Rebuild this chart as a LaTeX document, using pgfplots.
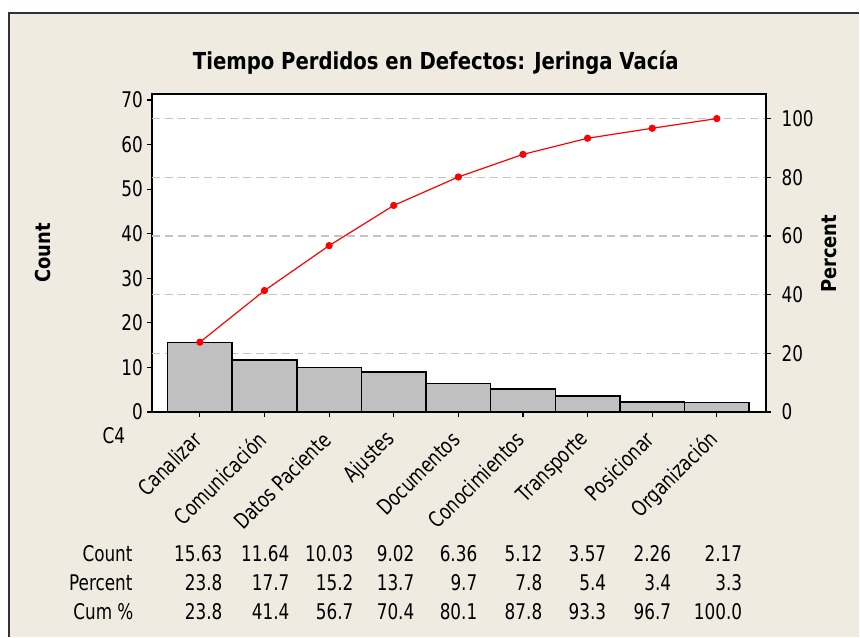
\documentclass[border=0pt]{standalone}
\usepackage{fontspec}
\setmainfont{DejaVu Sans}[FakeStretch=0.78]
\newfontfamily\bfam{DejaVu Sans}[FakeStretch=0.87]
\newfontfamily\tfam{DejaVu Sans}[FakeStretch=0.84]
\usepackage{pgfplots}
\pgfplotsset{compat=1.18}
\definecolor{bg}{HTML}{EFEBE1}
\definecolor{barfill}{HTML}{C0C0C0}
\definecolor{gridc}{HTML}{C4C4C4}
\newcommand\rf{\fontsize{10.8}{13}\selectfont}
\begin{document}
\begin{tikzpicture}[x=1pt,y=1pt]
\fill[white] (0,0) rectangle (430,318.5);
\fill[bg] (4.5,0) rectangle (430,312);
\draw[line width=0.6pt, color=black!80] (4.5,0) -- (4.5,312) -- (430,312);

\begin{axis}[
  at={(76.15pt,112.35pt)}, anchor=south west,
  scale only axis, width=307.2pt, height=159.15pt,
  xmin=-0.738, xmax=8.764, ymin=0, ymax=71.35,
  axis background/.style={fill=white},
  axis line style={line width=0.7pt, black},
  xtick={0,...,8},
  xticklabels={Canalizar, Comunicación, Datos Paciente, Ajustes, Documentos, Conocimientos, Transporte, Posicionar, Organización},
  xtick pos=bottom, ytick pos=left, tick align=outside,
  major tick length=2.5pt, tick style={line width=0.6pt, black},
  ytick={0,10,...,70},
  extra y ticks={13.16,26.32,39.48,52.64,65.8},
  extra y tick labels={},
  extra y tick style={grid=major, major tick length=0pt},
  grid style={gridc, line width=0.7pt, dash pattern=on 4pt off 2.5pt},
  /pgf/number format/assume math mode=true,
  yticklabel style={font=\rf, inner sep=2pt},
  xticklabel style={font=\rf, xshift=-1.1pt, yshift=-9.4pt, rotate=45, anchor=east, inner sep=0pt},
]
\addplot[ybar, bar width=1, fill=barfill, draw=black, line width=0.7pt] coordinates {
(0,15.63) (1,11.64) (2,10.03) (3,9.02) (4,6.36) (5,5.12) (6,3.57) (7,2.26) (8,2.17)};
\end{axis}

\begin{axis}[
  at={(76.15pt,112.35pt)}, anchor=south west,
  scale only axis, width=307.2pt, height=159.15pt,
  xmin=-0.738, xmax=8.764, ymin=0, ymax=108.4,
  axis x line=none, axis y line*=right,
  axis line style={line width=0.7pt, black},
  ytick={0,20,...,100}, tick align=outside,
  major tick length=2.5pt, tick style={line width=0.6pt, black},
  /pgf/number format/assume math mode=true,
  yticklabel style={font=\rf, inner sep=2pt, xshift=3pt},
]
\addplot[red, line width=0.6pt, mark=*, mark size=1.5pt, mark options={fill=red, draw=red}] coordinates {
(0,23.8) (1,41.4) (2,56.7) (3,70.4) (4,80.1) (5,87.8) (6,93.3) (7,96.7) (8,100.0)};
\end{axis}

\node[font=\tfam\bfseries\fontsize{11.7}{14}\selectfont, anchor=base] at (218,283.5) {Tiempo Perdidos en Defectos: Jeringa Vacía};
\node[font=\bfam\bfseries\fontsize{10.3}{12}\selectfont, rotate=90] at (21.75,192) {Count};
\node[font=\bfam\bfseries\fontsize{10.3}{12}\selectfont, rotate=90] at (414.75,191.5) {Percent};
\node[font=\rf] at (57,100.5) {C4};

\node[font=\rf, anchor=base east, inner sep=0pt] at (66.5,37.5) {Count};
\node[font=\rf, anchor=base east, inner sep=0pt] at (66.5,23) {Percent};
\node[font=\rf, anchor=base east, inner sep=0pt] at (67,8.5) {Cum \%};

\foreach \x/\a/\b/\c in {111.5/15.63/23.8/23.8, 145/11.64/17.7/41.4, 177/10.03/15.2/56.7, 207.5/9.02/13.7/70.4, 239/6.36/9.7/80.1, 271.5/5.12/7.8/87.8, 303.5/3.57/5.4/93.3, 336/2.26/3.4/96.7, 371.5/2.17/3.3/100.0}{
  \node[font=\rf, anchor=base east, inner sep=0pt] at (\x,37.5) {\a};
  \node[font=\rf, anchor=base east, inner sep=0pt] at (\x,23) {\b};
  \node[font=\rf, anchor=base east, inner sep=0pt] at (\x,8.5) {\c};
}
\end{tikzpicture}
\end{document}
